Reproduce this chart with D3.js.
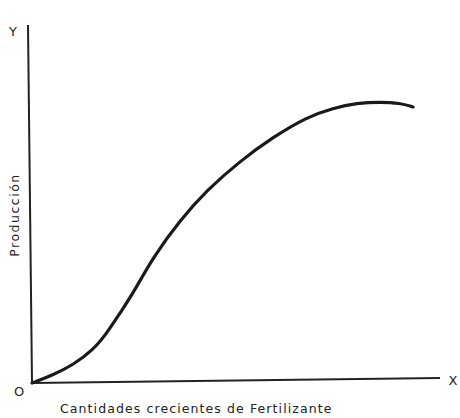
<!DOCTYPE html>
<html><head><meta charset="utf-8">
<script src="https://cdn.jsdelivr.net/npm/d3@7"></script>
<style>body{margin:0;background:#fff}svg{display:block}text{font-family:"DejaVu Sans",sans-serif;fill:#222}</style>
</head><body><svg id="c" width="460" height="418"></svg>
<script>
const fertilizer = [0, 5.1, 10.0, 15.0, 18.4, 21.6, 24.8, 29.7, 36.3, 42.9, 51.0, 59.1, 67.4, 73.8, 79.7, 85.3, 90.2, 93.4];
const production = [0, 2.2, 5.0, 9.2, 14.0, 19.6, 25.1, 35.2, 45.5, 53.9, 62.0, 68.7, 74.3, 76.8, 78.2, 78.5, 78.2, 77.1];
const xLabel = "Cantidades crecientes de Fertilizante";
const yLabel = "Producción";

const svg = d3.select("#c");
const x = d3.scaleLinear().domain([0, 100]).range([32, 440]);
const y = d3.scaleLinear().domain([0, 100]).range([383, 25]);

// axes
svg.append("line").attr("x1", x(0) - 4).attr("y1", y(100)).attr("x2", x(0)).attr("y2", y(0))
  .attr("stroke", "#222").attr("stroke-width", 2);
svg.append("line").attr("x1", x(0)).attr("y1", y(0)).attr("x2", x(100)).attr("y2", y(0) - 5)
  .attr("stroke", "#222").attr("stroke-width", 2);

const pts = fertilizer.map((d, i) => [d, production[i]]);
const line = d3.line().x(d => x(d[0])).y(d => y(d[1])).curve(d3.curveBasis);
svg.append("path").datum(pts).attr("d", line).attr("fill", "none")
  .attr("stroke", "#1a1a1a").attr("stroke-width", 3.2).attr("stroke-linecap", "round");

svg.append("text").attr("x", 13).attr("y", 36).attr("text-anchor", "middle").attr("font-size", 13).text("Y");
svg.append("text").attr("x", 19).attr("y", 396).attr("text-anchor", "middle").attr("font-size", 13).text("O");
svg.append("text").attr("x", 453).attr("y", 385).attr("text-anchor", "middle").attr("font-size", 13).text("X");
svg.append("text").attr("x", 60).attr("y", 413).attr("font-size", 12.5).attr("letter-spacing", 1.1).text(xLabel);
svg.append("text").attr("transform", "translate(19,215) rotate(-90)").attr("text-anchor", "middle")
  .attr("font-size", 12.5).attr("letter-spacing", 1.5).text(yLabel);
</script></body></html>
